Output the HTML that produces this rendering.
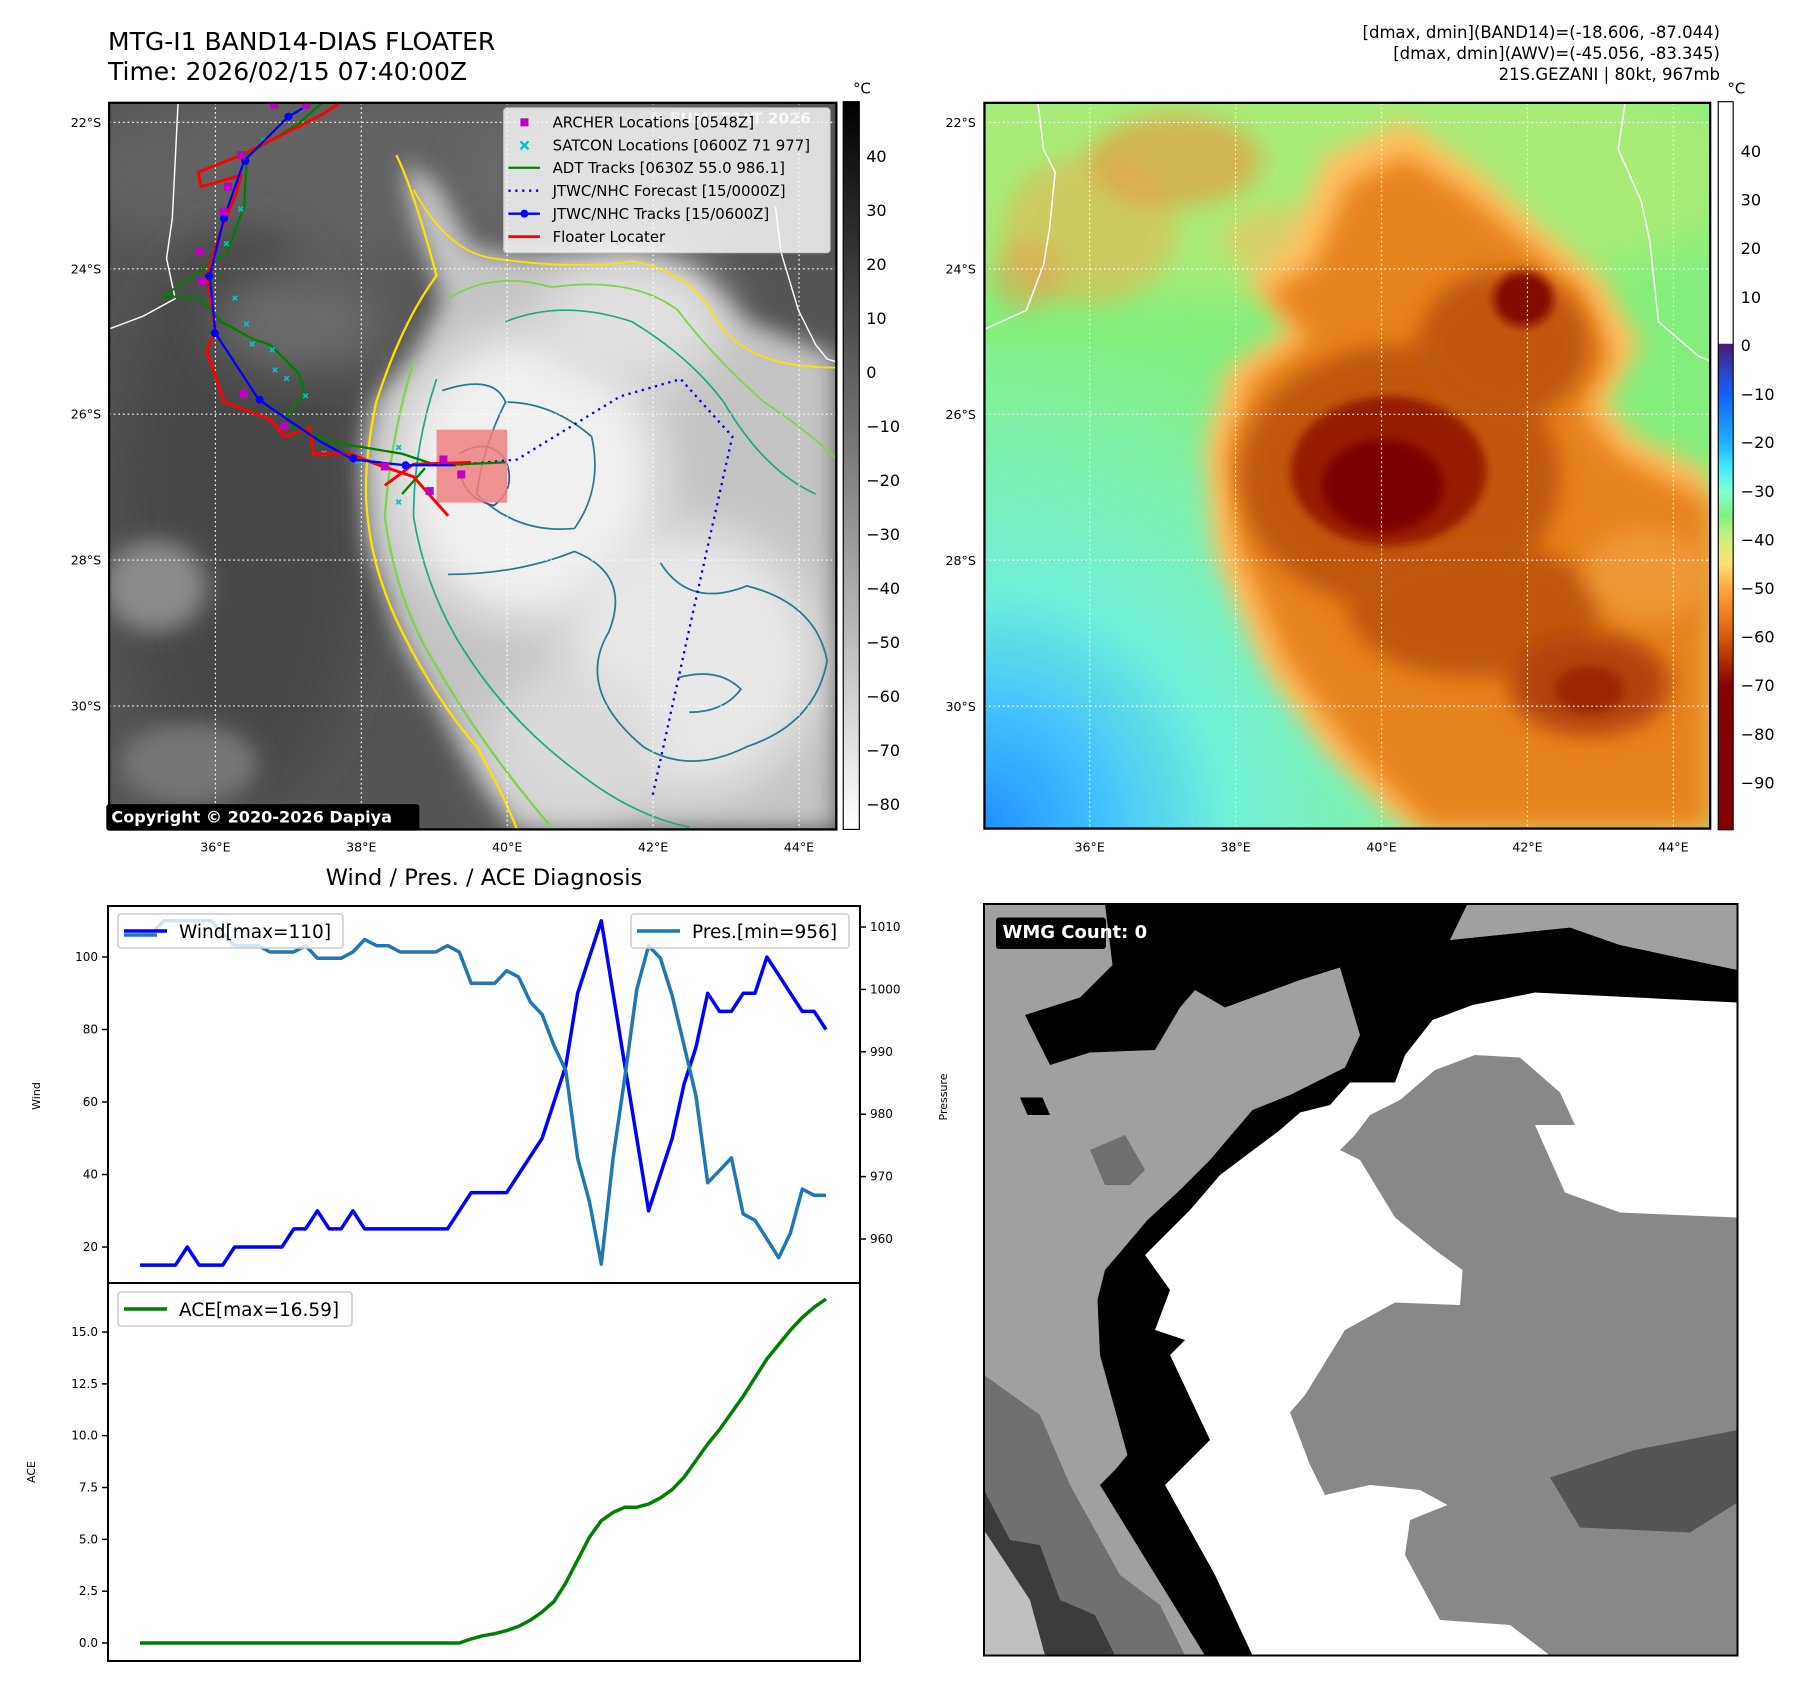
<!DOCTYPE html>
<html><head><meta charset="utf-8"><style>
html,body{margin:0;padding:0;background:#fff;}
body{width:1801px;height:1690px;position:relative;overflow:hidden;font-family:"Liberation Sans","DejaVu Sans",sans-serif;}
svg{position:absolute;left:0;top:0;}
text{font-family:"DejaVu Sans","Liberation Sans",sans-serif;}
</style></head><body>
<svg id="page" width="1801" height="1690" viewBox="0 0 1801 1690">
<defs>
  <filter id="b8" x="-20%" y="-20%" width="140%" height="140%"><feGaussianBlur stdDeviation="8"/></filter>
  <filter id="b20" x="-30%" y="-30%" width="160%" height="160%"><feGaussianBlur stdDeviation="20"/></filter>
  <filter id="b40" x="-30%" y="-30%" width="160%" height="160%"><feGaussianBlur stdDeviation="40"/></filter>
  <clipPath id="clipL"><rect x="190" y="179" width="1266" height="1265"/></clipPath>
  <clipPath id="clipR"><rect x="147" y="179" width="1263" height="1263"/></clipPath>
  <clipPath id="clipW"><rect x="8" y="28" width="1507" height="1503"/></clipPath>
  <linearGradient id="cbGray" x1="0" y1="0" x2="0" y2="1"><stop offset="0" stop-color="#000"/><stop offset="1" stop-color="#fff"/></linearGradient>
  <linearGradient id="cbCol" x1="0" y1="0" x2="0" y2="1">
    <stop offset="0" stop-color="#fff"/><stop offset="0.332" stop-color="#fff"/>
    <stop offset="0.333" stop-color="#4b1a7a"/><stop offset="0.368" stop-color="#3040c0"/>
    <stop offset="0.401" stop-color="#1060ff"/><stop offset="0.468" stop-color="#20b0ff"/>
    <stop offset="0.501" stop-color="#40e8ff"/><stop offset="0.535" stop-color="#80ffd0"/>
    <stop offset="0.568" stop-color="#80f080"/><stop offset="0.602" stop-color="#d0f080"/>
    <stop offset="0.635" stop-color="#ffe070"/><stop offset="0.668" stop-color="#ffa840"/>
    <stop offset="0.702" stop-color="#f08020"/><stop offset="0.735" stop-color="#d85a10"/>
    <stop offset="0.769" stop-color="#b02a00"/><stop offset="0.802" stop-color="#880000"/>
    <stop offset="1" stop-color="#800000"/>
  </linearGradient>
  <radialGradient id="blueCorner" cx="147" cy="1442" r="1000" gradientUnits="userSpaceOnUse">
    <stop offset="0" stop-color="#2090ff"/><stop offset="0.2" stop-color="#40c0ff"/>
    <stop offset="0.42" stop-color="#70f0d8"/><stop offset="0.7" stop-color="#80f0a8"/>
    <stop offset="1" stop-color="#80f080" stop-opacity="0"/>
  </radialGradient>
</defs>

<!-- Titles -->
<text x="108" y="50" font-size="25">MTG-I1 BAND14-DIAS FLOATER</text>
<text x="108" y="80" font-size="25">Time: 2026/02/15 07:40:00Z</text>
<g font-size="16.5" text-anchor="end">
  <text x="1720" y="38">[dmax, dmin](BAND14)=(-18.606, -87.044)</text>
  <text x="1720" y="59">[dmax, dmin](AWV)=(-45.056, -83.345)</text>
  <text x="1720" y="80">21S.GEZANI | 80kt, 967mb</text>
</g>

<!-- LEFT MAP (zoom1 coords) -->
<g transform="scale(0.5744)">
  <g clip-path="url(#clipL)">
    <rect x="190" y="179" width="1266" height="1265" fill="#555"/>
    <ellipse cx="700" cy="300" rx="600" ry="160" fill="#626262" filter="url(#b40)"/>
    <ellipse cx="420" cy="900" rx="220" ry="500" fill="#464646" filter="url(#b40)"/>
    <ellipse cx="270" cy="1020" rx="90" ry="80" fill="#8a8a8a" filter="url(#b20)"/>
    <ellipse cx="330" cy="1330" rx="120" ry="70" fill="#777" filter="url(#b20)"/>
    <ellipse cx="520" cy="560" rx="150" ry="90" fill="#6a6a6a" filter="url(#b40)"/>
    <ellipse cx="1100" cy="300" rx="280" ry="120" fill="#6a6a6a" filter="url(#b40)"/>
    <polygon fill="#c4c4c4" filter="url(#b20)" points="700,280 760,320 820,430 900,445 1100,445 1200,470 1300,560 1456,620 1456,1444 900,1444 800,1300 700,1120 640,950 630,800 650,700 720,620 770,520 720,380"/>
    <ellipse cx="920" cy="830" rx="230" ry="250" fill="#f0f0f0" filter="url(#b40)"/>
    <ellipse cx="1200" cy="1150" rx="220" ry="230" fill="#e8e8e8" filter="url(#b40)"/>
    <ellipse cx="1100" cy="560" rx="160" ry="110" fill="#e0e0e0" filter="url(#b40)"/>
    <ellipse cx="1000" cy="1300" rx="150" ry="130" fill="#dadada" filter="url(#b40)"/>
    <!-- contours -->
    <path d="M690,270 Q720,330 760,480 Q700,560 655,700 Q630,820 640,900 Q650,1000 700,1100 Q760,1220 830,1300 Q880,1390 900,1444" fill="none" stroke="#ffe100" stroke-width="4"/>
    <path d="M720,330 Q780,440 860,450 Q1000,470 1100,455 Q1200,470 1250,560 Q1300,640 1456,640" fill="none" stroke="#ffe100" stroke-width="3"/>
    <path d="M720,630 Q680,760 670,900 Q690,1050 760,1160 Q840,1300 960,1440" fill="none" stroke="#7fd34e" stroke-width="4"/>
    <path d="M780,520 Q860,470 960,500 Q1100,480 1180,540 Q1240,620 1330,700 Q1420,760 1456,800" fill="none" stroke="#7fd34e" stroke-width="3"/>
    <path d="M760,660 Q720,780 720,900 Q740,1020 800,1120 Q880,1250 1000,1340 Q1100,1420 1200,1440" fill="none" stroke="#22a884" stroke-width="3"/>
    <path d="M880,560 Q980,520 1100,560 Q1200,620 1260,700 Q1330,820 1420,860" fill="none" stroke="#22a884" stroke-width="3"/>
    <path d="M770,680 Q860,650 880,700 Q840,780 830,860 Q900,930 1000,920 Q1050,850 1030,760 Q960,700 880,700" fill="none" stroke="#2a788e" stroke-width="3"/>
    <path d="M780,1000 Q900,1000 1000,960 Q1100,1000 1060,1100 Q1000,1200 1120,1300 Q1200,1350 1300,1300 Q1420,1260 1440,1150 Q1420,1050 1300,1020 Q1200,1060 1150,980" fill="none" stroke="#2a788e" stroke-width="3"/>
    <path d="M800,790 Q850,760 880,800 Q900,850 860,880 Q810,870 800,820" fill="none" stroke="#3b528b" stroke-width="3"/>
    <path d="M1180,1180 Q1250,1160 1290,1200 Q1260,1240 1200,1240" fill="none" stroke="#2a788e" stroke-width="3"/>
    <!-- coast -->
    <path d="M310,179 L305,280 L300,380 L290,450 L305,520 L250,550 L192,572" fill="none" stroke="#fff" stroke-width="2.5"/>
    <path d="M1350,360 L1360,440 L1390,540 L1420,600 L1440,625 L1456,630" fill="none" stroke="#fff" stroke-width="2.5"/>
    <!-- grid -->
    <g stroke="#fff" stroke-width="2" stroke-dasharray="3,5">
      <line x1="375" y1="179" x2="375" y2="1444"/><line x1="629" y1="179" x2="629" y2="1444"/>
      <line x1="883" y1="179" x2="883" y2="1444"/><line x1="1137" y1="179" x2="1137" y2="1444"/>
      <line x1="1391" y1="179" x2="1391" y2="1444"/>
      <line x1="190" y1="213" x2="1456" y2="213"/><line x1="190" y1="468" x2="1456" y2="468"/>
      <line x1="190" y1="721" x2="1456" y2="721"/><line x1="190" y1="975" x2="1456" y2="975"/>
      <line x1="190" y1="1229" x2="1456" y2="1229"/>
    </g>
    <rect x="760" y="748" width="123" height="127" fill="#f08080" opacity="0.85"/>
    <polyline points="790,810 900,800 1080,690 1185,660 1275,760 1210,1050 1135,1390" fill="none" stroke="#0000ee" stroke-width="4" stroke-dasharray="4,8"/>
    <polyline points="560,180 520,215 430,270 425,360 395,440 285,515 350,520 385,560 440,590 470,600 520,650 530,685 490,735 580,770 640,780 700,790 760,810 880,805" fill="none" stroke="#008000" stroke-width="4"/>
    <polyline points="700,860 740,815" fill="none" stroke="#008000" stroke-width="4"/>
    <g stroke="#00c0c0" stroke-width="3">
      <path d="M405,515 l8,8 m0,-8 l-8,8 M425,560 l8,8 m0,-8 l-8,8 M435,595 l8,8 m0,-8 l-8,8 M470,605 l8,8 m0,-8 l-8,8 M475,640 l8,8 m0,-8 l-8,8 M495,655 l8,8 m0,-8 l-8,8 M528,685 l8,8 m0,-8 l-8,8 M490,738 l8,8 m0,-8 l-8,8 M560,785 l8,8 m0,-8 l-8,8 M620,800 l8,8 m0,-8 l-8,8 M690,775 l8,8 m0,-8 l-8,8 M690,870 l8,8 m0,-8 l-8,8 M415,360 l8,8 m0,-8 l-8,8 M455,240 l8,8 m0,-8 l-8,8 M390,420 l8,8 m0,-8 l-8,8"/>
    </g>
    <polyline points="590,180 560,200 420,270 345,300 350,325 420,305 410,340 385,400 360,480 375,575 360,610 390,700 470,730 495,760 540,745 545,790 610,790 660,810 720,830 780,898" fill="none" stroke="#ff0000" stroke-width="5"/>
    <polyline points="670,845 720,808 820,805" fill="none" stroke="#ff0000" stroke-width="5"/>
    <polyline points="540,180 500,205 425,280 390,380 365,480 375,580 450,695 500,730 560,770 615,800 705,810 790,810" fill="none" stroke="#0000ff" stroke-width="4"/>
    <g fill="#0000ff"><circle cx="502" cy="203" r="7"/><circle cx="427" cy="280" r="7"/><circle cx="390" cy="380" r="7"/><circle cx="364" cy="481" r="7"/><circle cx="374" cy="580" r="7"/><circle cx="452" cy="696" r="7"/><circle cx="615" cy="798" r="7"/><circle cx="706" cy="810" r="7"/></g>
    <g fill="#c000c0">
      <rect x="470" y="175" width="14" height="14"/><rect x="526" y="175" width="14" height="14"/>
      <rect x="413" y="263" width="14" height="14"/><rect x="390" y="318" width="14" height="14"/>
      <rect x="382" y="361" width="14" height="14"/><rect x="340" y="430" width="14" height="14"/>
      <rect x="345" y="483" width="14" height="14"/><rect x="417" y="678" width="14" height="14"/>
      <rect x="488" y="735" width="14" height="14"/><rect x="663" y="805" width="14" height="14"/>
      <rect x="741" y="848" width="14" height="14"/><rect x="765" y="793" width="14" height="14"/>
      <rect x="796" y="819" width="14" height="14"/>
    </g>
    <text x="1130" y="215" font-size="27" font-weight="bold" fill="#d8d8d8">© EUMETSAT 2026</text>
  </g>
  <g>
    <rect x="877" y="188" width="568" height="252" rx="6" fill="#fff" fill-opacity="0.8" stroke="#ccc" stroke-width="2"/>
    <rect x="906" y="206" width="14" height="14" fill="#c000c0"/>
    <path d="M906,246 l14,14 m0,-14 l-14,14" stroke="#00c0c0" stroke-width="4"/>
    <line x1="885" y1="292" x2="940" y2="292" stroke="#008000" stroke-width="4"/>
    <line x1="885" y1="332" x2="940" y2="332" stroke="#0000ee" stroke-width="4" stroke-dasharray="4,8"/>
    <line x1="885" y1="372" x2="940" y2="372" stroke="#0000ff" stroke-width="4"/><circle cx="913" cy="372" r="7" fill="#0000ff"/>
    <line x1="885" y1="412" x2="940" y2="412" stroke="#ff0000" stroke-width="5"/>
    <g font-size="26" fill="#000">
      <text x="962" y="222">ARCHER Locations [0548Z]</text>
      <text x="962" y="262">SATCON Locations [0600Z 71 977]</text>
      <text x="962" y="301">ADT Tracks [0630Z 55.0 986.1]</text>
      <text x="962" y="341">JTWC/NHC Forecast [15/0000Z]</text>
      <text x="962" y="381">JTWC/NHC Tracks [15/0600Z]</text>
      <text x="962" y="421">Floater Locater</text>
    </g>
  </g>
  <rect x="190" y="179" width="1266" height="1265" fill="none" stroke="#000" stroke-width="4"/>
  <rect x="185" y="1400" width="545" height="46" rx="5" fill="#000"/>
  <text x="194" y="1432" font-size="28" font-weight="bold" fill="#fff">Copyright © 2020-2026 Dapiya</text>
  <g font-size="22" text-anchor="end">
    <text x="176" y="221">22°S</text><text x="176" y="476">24°S</text><text x="176" y="729">26°S</text>
    <text x="176" y="983">28°S</text><text x="176" y="1237">30°S</text>
  </g>
  <g font-size="22" text-anchor="middle">
    <text x="375" y="1482">36°E</text><text x="629" y="1482">38°E</text><text x="883" y="1482">40°E</text>
    <text x="1137" y="1482">42°E</text><text x="1391" y="1482">44°E</text>
  </g>
  <g>
    <rect x="1468" y="177" width="28" height="1267" fill="url(#cbGray)" stroke="#000" stroke-width="2"/>
    <text x="1485" y="163" font-size="26">°C</text>
    <g font-size="28">
      <text x="1508" y="282">40</text><text x="1508" y="376">30</text><text x="1508" y="470">20</text>
      <text x="1508" y="564">10</text><text x="1508" y="658">0</text><text x="1508" y="752">−10</text>
      <text x="1508" y="846">−20</text><text x="1508" y="940">−30</text><text x="1508" y="1034">−40</text>
      <text x="1508" y="1128">−50</text><text x="1508" y="1222">−60</text><text x="1508" y="1316">−70</text>
      <text x="1508" y="1410">−80</text>
    </g>
  </g>
</g>

<!-- RIGHT MAP (zoom5 coords) -->
<g transform="translate(900,0) scale(0.5746)">
  <g clip-path="url(#clipR)">
    <rect x="147" y="179" width="1263" height="1263" fill="#84ee7c"/>
    <ellipse cx="700" cy="300" rx="800" ry="220" fill="#a8ec78" filter="url(#b40)"/>
    <rect x="147" y="600" width="1263" height="842" fill="url(#blueCorner)"/>
    <ellipse cx="330" cy="400" rx="150" ry="130" fill="#e8b050" opacity="0.55" filter="url(#b20)"/>
    <ellipse cx="480" cy="280" rx="150" ry="80" fill="#e89a40" opacity="0.65" filter="url(#b20)"/>
    <ellipse cx="220" cy="480" rx="60" ry="60" fill="#e8a050" opacity="0.55" filter="url(#b20)"/>
    <ellipse cx="650" cy="420" rx="90" ry="60" fill="#f0c060" opacity="0.6" filter="url(#b20)"/>
    <polygon fill="#ffc060" filter="url(#b20)" points="530,780 570,640 680,570 600,490 680,420 740,270 880,210 1010,300 1120,400 1220,480 1290,600 1230,700 1280,760 1410,820 1410,1442 880,1442 740,1310 630,1160 545,960"/>
    <polygon fill="#e8841c" filter="url(#b20)" points="570,790 610,660 710,590 640,510 720,460 780,320 880,270 990,340 1100,430 1190,510 1240,620 1190,710 1250,790 1410,870 1410,1442 920,1442 780,1300 670,1150 590,960"/>
    <ellipse cx="870" cy="830" rx="280" ry="230" fill="#c0560e" filter="url(#b20)"/>
    <ellipse cx="1000" cy="1060" rx="220" ry="120" fill="#c0560e" filter="url(#b20)"/>
    <ellipse cx="1050" cy="600" rx="150" ry="130" fill="#c0560e" filter="url(#b20)"/>
    <ellipse cx="1200" cy="1190" rx="140" ry="90" fill="#b04208" filter="url(#b20)"/>
    <ellipse cx="850" cy="820" rx="170" ry="130" fill="#951a00" filter="url(#b8)"/>
    <ellipse cx="840" cy="845" rx="105" ry="80" fill="#7a0000" filter="url(#b8)"/>
    <ellipse cx="1085" cy="520" rx="52" ry="48" fill="#820800" filter="url(#b8)"/>
    <ellipse cx="1200" cy="1200" rx="60" ry="40" fill="#9a2800" filter="url(#b8)"/>
    <ellipse cx="1300" cy="1000" rx="110" ry="80" fill="#f0a040" opacity="0.7" filter="url(#b20)"/>
    <path d="M240,179 L250,260 L270,300 L260,400 L250,460 L220,540 L149,572" fill="none" stroke="#fff" stroke-width="2.5"/>
    <path d="M1262,179 L1250,260 L1290,350 L1305,420 L1320,560 L1390,620 L1410,628" fill="none" stroke="#fff" stroke-width="2.5"/>
    <g stroke="#fff" stroke-width="2" stroke-dasharray="3,5">
      <line x1="330" y1="179" x2="330" y2="1442"/><line x1="584" y1="179" x2="584" y2="1442"/>
      <line x1="838" y1="179" x2="838" y2="1442"/><line x1="1092" y1="179" x2="1092" y2="1442"/>
      <line x1="1346" y1="179" x2="1346" y2="1442"/>
      <line x1="147" y1="213" x2="1410" y2="213"/><line x1="147" y1="468" x2="1410" y2="468"/>
      <line x1="147" y1="721" x2="1410" y2="721"/><line x1="147" y1="975" x2="1410" y2="975"/>
      <line x1="147" y1="1229" x2="1410" y2="1229"/>
    </g>
  </g>
  <rect x="147" y="179" width="1263" height="1263" fill="none" stroke="#000" stroke-width="4"/>
  <g font-size="22" text-anchor="end">
    <text x="132" y="221">22°S</text><text x="132" y="476">24°S</text><text x="132" y="729">26°S</text>
    <text x="132" y="983">28°S</text><text x="132" y="1237">30°S</text>
  </g>
  <g font-size="22" text-anchor="middle">
    <text x="330" y="1482">36°E</text><text x="584" y="1482">38°E</text><text x="838" y="1482">40°E</text>
    <text x="1092" y="1482">42°E</text><text x="1346" y="1482">44°E</text>
  </g>
  <g>
    <rect x="1424" y="177" width="26" height="1267" fill="url(#cbCol)" stroke="#000" stroke-width="2"/>
    <text x="1440" y="163" font-size="26">°C</text>
    <g font-size="28">
      <text x="1463" y="273">40</text><text x="1463" y="358">30</text><text x="1463" y="442">20</text>
      <text x="1463" y="527">10</text><text x="1463" y="611">0</text><text x="1463" y="696">−10</text>
      <text x="1463" y="780">−20</text><text x="1463" y="865">−30</text><text x="1463" y="949">−40</text>
      <text x="1463" y="1034">−50</text><text x="1463" y="1118">−60</text><text x="1463" y="1203">−70</text>
      <text x="1463" y="1288">−80</text><text x="1463" y="1372">−90</text>
    </g>
  </g>
</g>

<!-- WMG panel (zoom4 coords) -->
<g transform="translate(980,890) scale(0.5)">
  <g clip-path="url(#clipW)">
    <rect x="8" y="28" width="1507" height="1503" fill="#a0a0a0"/>
    <polygon fill="#888" points="720,520 780,450 840,420 910,360 990,330 1080,335 1160,405 1190,470 1110,470 1170,605 1280,645 1515,655 1515,1531 1140,1531 1060,1470 920,1460 850,1330 860,1260 935,1230 880,1200 780,1190 690,1210 660,1150 620,1045 650,1010 730,880 830,825 960,830 965,760 910,720 830,655 760,540"/>
    <polygon fill="#fff" points="640,445 740,385 830,385 850,330 905,260 985,230 1110,205 1515,225 1515,655 1280,645 1170,605 1110,470 1190,470 1160,405 1080,335 990,330 910,360 840,420 780,450 750,490 720,520 760,540 830,655 910,720 965,760 960,830 830,825 730,880 650,1010 620,1045 660,1150 690,1210 780,1190 880,1200 935,1230 860,1260 850,1330 920,1460 1060,1470 1140,1531 545,1531 470,1370 370,1190 460,1100 380,930 410,900 350,880 380,800 330,730 420,640 480,570 600,480"/>
    <polygon fill="#000" points="250,28 975,28 940,100 1180,75 1280,110 1515,160 1515,225 1110,205 985,230 905,260 850,330 830,385 740,385 700,430 640,445 620,410 730,355 760,290 720,155 640,180 490,235 430,200 400,235 350,320 220,325 140,350 90,250 200,215 265,150"/>
    <polygon fill="#a0a0a0" points="975,28 1490,60 1515,160 1280,110 1180,75 940,100"/>
    <polygon fill="#000" points="640,445 600,480 480,570 420,640 330,730 380,800 350,880 410,900 380,930 460,1100 370,1190 470,1370 545,1531 450,1531 240,1190 270,1160 295,1130 240,930 235,820 250,760 280,725 335,660 400,600 460,540 545,440 620,410"/>
    <polygon fill="#555" points="1140,1175 1310,1120 1515,1080 1515,1225 1420,1285 1200,1275"/>
    <polygon fill="#707070" points="8,970 120,1050 180,1190 280,1370 360,1430 410,1531 8,1531"/>
    <polygon fill="#3c3c3c" points="8,1200 60,1300 120,1310 160,1420 230,1450 270,1531 8,1531"/>
    <polygon fill="#c0c0c0" points="8,1280 100,1420 130,1531 8,1531"/>
    <polygon fill="#707070" points="220,520 290,490 330,560 300,590 250,590"/>
    <polygon fill="#000" points="80,415 125,415 140,450 95,450"/>
  </g>
  <rect x="8" y="28" width="1507" height="1503" fill="none" stroke="#000" stroke-width="4"/>
  <rect x="32" y="55" width="220" height="63" rx="6" fill="#000"/>
  <text x="45" y="96" font-size="36" font-weight="bold" fill="#fff">WMG Count: 0</text>
</g>

<text x="484" y="885" font-size="22.5" text-anchor="middle">Wind / Pres. / ACE Diagnosis</text>
<g id="diag"></g>
</svg>

<script>
const windValues = [15,15,15,15,20,15,15,15,20,20,20,20,20,25,25,30,25,25,30,25,25,25,25,25,25,25,25,30,35,35,35,35,40,45,50,60,70,90,100,110,90,70,50,30,40,50,65,75,90,85,85,90,90,100,95,90,85,85,80];
const presValues = [1009,1009,1011,1011,1011,1011,1011,1009,1007,1007,1007,1006,1006,1006,1007,1005,1005,1005,1006,1008,1007,1007,1006,1006,1006,1006,1007,1006,1001,1001,1001,1003,1002,998,996,991,987,973,966,956,973,986,1000,1007,1005,999,991,983,969,971,973,964,963,960,957,961,968,967,967];
const aceValues = [0,0,0,0,0,0,0,0,0,0,0,0,0,0,0,0,0,0,0,0,0,0,0,0,0,0,0,0,0.2,0.35,0.45,0.6,0.8,1.1,1.5,2.0,2.9,4.0,5.1,5.9,6.3,6.55,6.55,6.7,7.0,7.4,8.0,8.8,9.6,10.3,11.1,11.9,12.8,13.7,14.4,15.1,15.7,16.2,16.59];
const windTicks = [20,40,60,80,100];
const presTicks = [960,970,980,990,1000,1010];
const aceTicks = [0,2.5,5,7.5,10,12.5,15];

const NS = 'http://www.w3.org/2000/svg';
const root = document.getElementById('diag');
function mk(tag, attrs, parent) {
  const e = document.createElementNS(NS, tag);
  for (const k in attrs) e.setAttribute(k, attrs[k]);
  (parent || root).appendChild(e);
  return e;
}
const L = 108, R = 860, T1 = 906, B1 = 1283, B2 = 1661;
const n = windValues.length;
const xS = i => 140 + i * (826 - 140) / (n - 1);
const yW = v => 957 + (100 - v) * 3.625;
const yP = v => 927 + (1010 - v) * 6.24;
const yA = v => 1643 - v * 20.73;

function line(vals, ys, color, w, name) {
  const pts = vals.map((v, i) => xS(i).toFixed(1) + ',' + ys(v).toFixed(1)).join(' ');
  const p = mk('polyline', {points: pts, fill: 'none', stroke: color, 'stroke-width': w, 'stroke-linejoin': 'round'});
  
  
}
const f1 = mk('rect', {x: L, y: T1, width: R - L, height: B1 - T1, fill: 'none', stroke: '#000', 'stroke-width': 2});


const f2 = mk('rect', {x: L, y: B1, width: R - L, height: B2 - B1, fill: 'none', stroke: '#000', 'stroke-width': 2});



windTicks.forEach(t => {
  mk('line', {x1: L - 6, x2: L, y1: yW(t), y2: yW(t), stroke: '#000', 'stroke-width': 1.5});
  const tx = mk('text', {x: L - 10, y: yW(t) + 4, 'font-size': 12, 'text-anchor': 'end'});
  tx.textContent = t;
  
  
});
presTicks.forEach(t => {
  mk('line', {x1: R, x2: R + 6, y1: yP(t), y2: yP(t), stroke: '#000', 'stroke-width': 1.5});
  const tx = mk('text', {x: R + 10, y: yP(t) + 4, 'font-size': 12});
  tx.textContent = t;
  
  
});
aceTicks.forEach(t => {
  mk('line', {x1: L - 6, x2: L, y1: yA(t), y2: yA(t), stroke: '#000', 'stroke-width': 1.5});
  const tx = mk('text', {x: L - 10, y: yA(t) + 4, 'font-size': 12, 'text-anchor': 'end'});
  tx.textContent = t.toFixed(1);
  
  
});
const wl = mk('text', {x: 40, y: 1096, 'font-size': 11, 'text-anchor': 'middle', transform: 'rotate(-90 40 1096)'});
wl.textContent = 'Wind';


const pl = mk('text', {x: 947, y: 1097, 'font-size': 11, 'text-anchor': 'middle', transform: 'rotate(-90 947 1097)'});
pl.textContent = 'Pressure';


const al = mk('text', {x: 35, y: 1472, 'font-size': 11, 'text-anchor': 'middle', transform: 'rotate(-90 35 1472)'});
al.textContent = 'ACE';



line(windValues, yW, '#0000ff', 3.5, 'wind-line');
line(presValues, yP, '#1f77b4', 3.5, 'pressure-line');
line(aceValues, yA, '#008000', 3.5, 'ace-line');

function legend(x, y, w, color, label, name) {
  const g = mk('g', {});
  
  
  mk('rect', {x: x, y: y, width: w, height: 34, rx: 3, fill: '#fff', 'fill-opacity': 0.8, stroke: '#ccc', 'stroke-width': 1.5}, g);
  mk('line', {x1: x + 6, x2: x + 49, y1: y + 17, y2: y + 17, stroke: color, 'stroke-width': 3.5}, g);
  const t = mk('text', {x: x + 61, y: y + 24, 'font-size': 18.5}, g);
  t.textContent = label;
}
legend(118, 914, 225, '#0000ff', 'Wind[max=110]', 'wind-legend');
mk('line', {x1: 124, x2: 157, y1: 935, y2: 935, stroke: '#1f77b4', 'stroke-width': 3.5});
legend(631, 914, 218, '#1f77b4', 'Pres.[min=956]', 'pressure-legend');
legend(118, 1292, 234, '#008000', 'ACE[max=16.59]', 'ace-legend');
</script>
</body></html>
